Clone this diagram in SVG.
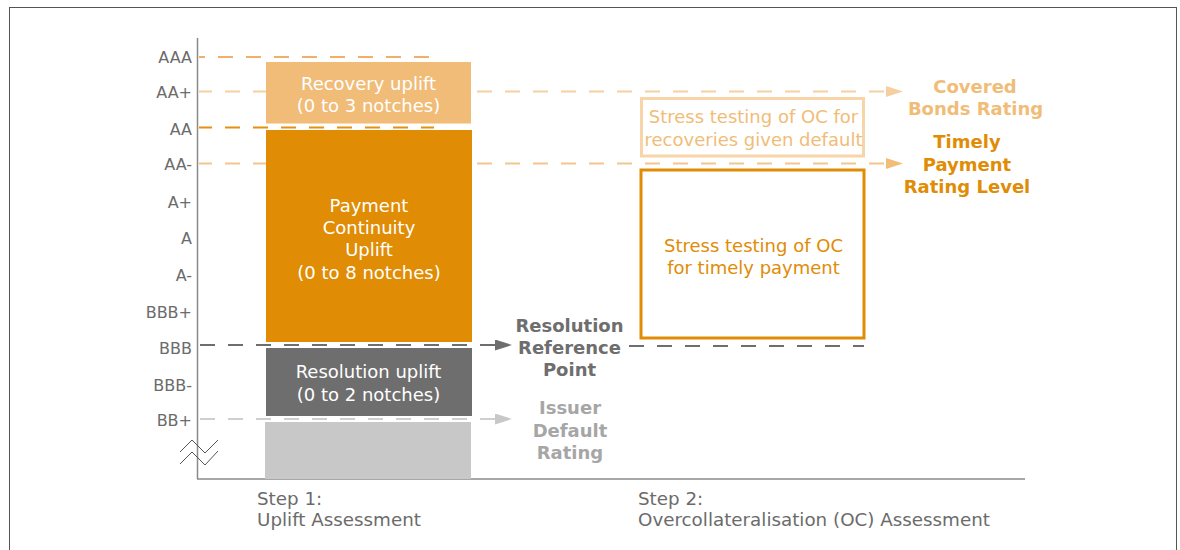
<svg xmlns="http://www.w3.org/2000/svg" width="1180" height="550" viewBox="0 0 1180 550">
<style>
text{font-family:"DejaVu Sans",Verdana,sans-serif}
.lbl{font-size:16px;fill:#6b6b6b;text-anchor:end}
.bx{font-size:18px;fill:#fff;text-anchor:middle}
.bold{font-size:18px;font-weight:bold;text-anchor:middle}
.step{font-size:18.3px;fill:#6b6b6b}
.ax{stroke:#8a8a8a;stroke-width:1.5;fill:none}
.d{fill:none;stroke-width:2;stroke-dasharray:15 13}
</style>
<defs>
<marker id="aLight" markerUnits="userSpaceOnUse" markerWidth="17" markerHeight="12" refX="0" refY="5.5" orient="auto"><path d="M0,0 L17,5.5 L0,11 z" fill="#F5CFA0"/></marker>
<marker id="aMid" markerUnits="userSpaceOnUse" markerWidth="17" markerHeight="12" refX="0" refY="5.5" orient="auto"><path d="M0,0 L17,5.5 L0,11 z" fill="#F1BD78"/></marker>
<marker id="aDark" markerUnits="userSpaceOnUse" markerWidth="17" markerHeight="12" refX="0" refY="5.5" orient="auto"><path d="M0,0 L17,5.5 L0,11 z" fill="#6e6e6e"/></marker>
<marker id="aGray" markerUnits="userSpaceOnUse" markerWidth="17" markerHeight="12" refX="0" refY="5.5" orient="auto"><path d="M0,0 L17,5.5 L0,11 z" fill="#c8c8c8"/></marker>
</defs>
<rect x="0" y="0" width="1180" height="550" fill="#fff"/>
<rect x="9.5" y="7.5" width="1167" height="560" fill="none" stroke="#555" stroke-width="1"/>

<g id="axes">
<line class="ax" x1="197.5" y1="38" x2="197.5" y2="479"/>
<line class="ax" x1="197" y1="479" x2="1025" y2="479"/>
<polyline points="180,452 192,440 205,453 218,440" fill="none" stroke="#555" stroke-width="1"/>
<polyline points="180,464 192,452 205,465 218,451" fill="none" stroke="#555" stroke-width="1"/>
</g>

<g id="rating-labels">
<text class="lbl" x="192" y="62.5">AAA</text>
<text class="lbl" x="192" y="97.8">AA+</text>
<text class="lbl" x="192" y="134.5">AA</text>
<text class="lbl" x="192" y="169.8">AA-</text>
<text class="lbl" x="192" y="207.5">A+</text>
<text class="lbl" x="192" y="244.3">A</text>
<text class="lbl" x="192" y="280.8">A-</text>
<text class="lbl" x="192" y="318">BBB+</text>
<text class="lbl" x="192" y="353.5">BBB</text>
<text class="lbl" x="192" y="391">BBB-</text>
<text class="lbl" x="192" y="426">BB+</text>
</g>

<g id="connectors">
<line class="d" x1="199" y1="57" x2="434" y2="57" stroke="#EEB06A" stroke-dashoffset="9"/>
<line class="d" x1="199" y1="91.5" x2="886" y2="91.5" stroke="#F5D0A2" stroke-dashoffset="2" marker-end="url(#aLight)"/>
<line class="d" x1="199" y1="127.5" x2="434" y2="127.5" stroke="#E3920F" stroke-dashoffset="2"/>
<line class="d" x1="199" y1="163.5" x2="886" y2="163.5" stroke="#F3C58C" stroke-dashoffset="2" marker-end="url(#aMid)"/>
<line class="d" x1="200" y1="345" x2="495" y2="345" stroke="#6e6e6e" marker-end="url(#aDark)"/>
<line class="d" x1="629" y1="346" x2="864" y2="346" stroke="#6e6e6e" stroke-dasharray="15 12.5"/>
<line class="d" x1="200" y1="419" x2="495" y2="419" stroke="#cfcfcf" marker-end="url(#aGray)"/>
</g>

<g id="recovery-uplift">
<rect x="266" y="62" width="205" height="61.5" fill="#F0BC78"/>
<text class="bx" x="368.5" y="90">Recovery uplift</text>
<text class="bx" x="368.5" y="112.3">(0 to 3 notches)</text>
</g>

<g id="payment-continuity">
<rect x="266" y="130" width="206" height="212" fill="#E08C05"/>
<text class="bx" x="369" y="211.5">Payment</text>
<text class="bx" x="369" y="233.8">Continuity</text>
<text class="bx" x="369" y="256.3">Uplift</text>
<text class="bx" x="369" y="278.5">(0 to 8 notches)</text>
</g>

<g id="resolution-uplift">
<rect x="266" y="348" width="206" height="68" fill="#6e6e6e"/>
<text class="bx" x="368.5" y="378.2">Resolution uplift</text>
<text class="bx" x="368.5" y="400.5">(0 to 2 notches)</text>
</g>

<g id="issuer-box">
<rect x="265" y="422" width="206" height="57" fill="#c8c8c8"/>
</g>

<g id="resolution-reference-point">
<text class="bold" x="569.5" y="331.5" fill="#6e6e6e">Resolution</text>
<text class="bold" x="569.5" y="354" fill="#6e6e6e">Reference</text>
<text class="bold" x="569.5" y="376" fill="#6e6e6e">Point</text>
</g>

<g id="issuer-default-rating">
<text class="bold" x="570" y="414" fill="#a6a6a6">Issuer</text>
<text class="bold" x="570" y="436.5" fill="#a6a6a6">Default</text>
<text class="bold" x="570" y="458.8" fill="#a6a6a6">Rating</text>
</g>

<g id="stress-recoveries">
<rect x="641.5" y="98.5" width="222" height="57.5" fill="none" stroke="#F7D5A8" stroke-width="3"/>
<text class="bx" x="753.5" y="123.2" style="fill:#F0BD78">Stress testing of OC for</text>
<text class="bx" x="753.5" y="145.8" style="fill:#F0BD78">recoveries given default</text>
</g>

<g id="stress-timely">
<rect x="641" y="170" width="223" height="168" fill="none" stroke="#E08C05" stroke-width="3"/>
<text class="bx" x="753.5" y="252.2" style="fill:#E08C05">Stress testing of OC</text>
<text class="bx" x="753.5" y="273.8" style="fill:#E08C05">for timely payment</text>
</g>

<g id="covered-bonds-rating">
<text class="bold" x="975" y="93.2" fill="#F0BD78">Covered</text>
<text class="bold" x="975.5" y="114.8" fill="#F0BD78">Bonds Rating</text>
</g>

<g id="timely-payment-rating-level">
<text class="bold" x="967" y="148.2" fill="#E08C05">Timely</text>
<text class="bold" x="967" y="170.8" fill="#E08C05">Payment</text>
<text class="bold" x="967" y="193.2" fill="#E08C05">Rating Level</text>
</g>

<g id="step1">
<text class="step" x="257" y="504.5">Step 1:</text>
<text class="step" x="257" y="525.8">Uplift Assessment</text>
</g>

<g id="step2">
<text class="step" x="638" y="504.5">Step 2:</text>
<text class="step" x="638" y="525.8">Overcollateralisation (OC) Assessment</text>
</g>
</svg>
